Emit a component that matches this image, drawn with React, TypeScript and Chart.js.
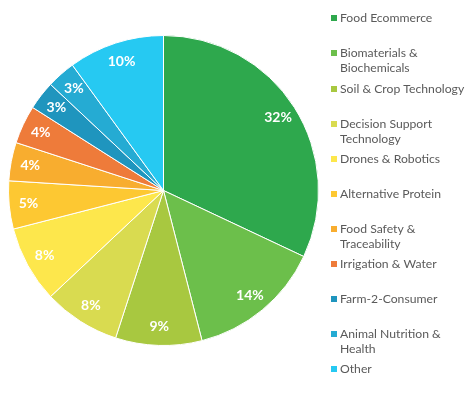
import React, { useEffect, useRef } from "react";
import { Chart, registerables } from "chart.js";

Chart.register(...registerables);

const categories: string[][] = [
  ["Food Ecommerce"],
  ["Biomaterials &", "Biochemicals"],
  ["Soil & Crop Technology"],
  ["Decision Support", "Technology"],
  ["Drones & Robotics"],
  ["Alternative Protein"],
  ["Food Safety &", "Traceability"],
  ["Irrigation & Water"],
  ["Farm-2-Consumer"],
  ["Animal Nutrition &", "Health"],
  ["Other"],
];

const shares: number[] = [32, 14, 9, 8, 8, 5, 4, 4, 3, 3, 10];

const colors: string[] = [
  "#2ea84d",
  "#6cbf4b",
  "#a8c840",
  "#d9db50",
  "#fde74c",
  "#fdc832",
  "#f8ad2f",
  "#ee7b3a",
  "#1f95be",
  "#25abd3",
  "#26c9f2",
];

const labelPlugin = {
  id: "customLabels",
  afterDraw(chart: any) {
    const ctx = chart.ctx;
    const meta = chart.getDatasetMeta(0);
    const data = chart.data.datasets[0].data as number[];
    ctx.save();
    ctx.fillStyle = "#ffffff";
    ctx.font = "bold 14px Lato, 'DejaVu Sans', sans-serif";
    ctx.textAlign = "center";
    ctx.textBaseline = "middle";
    meta.data.forEach((arc: any, i: number) => {
      const p = arc.getProps(["x", "y", "startAngle", "endAngle", "outerRadius"], true);
      const mid = (p.startAngle + p.endAngle) / 2;
      const r = p.outerRadius * 0.875;
      ctx.fillText(data[i] + "%", p.x + Math.cos(mid) * r, p.y + Math.sin(mid) * r);
    });

    // legend
    const lx = 331;
    const startY = 18;
    const step = 35;
    const lineH = 15;
    ctx.textAlign = "left";
    ctx.font = "12.2px Lato, 'DejaVu Sans', sans-serif";
    const labels = chart.data.labels as string[][];
    labels.forEach((lines: string[], i: number) => {
      const yy = startY + i * step + (i >= 2 ? 1 : 0);
      ctx.fillStyle = colors[i];
      ctx.fillRect(lx, yy - 3, 6, 6);
      ctx.fillStyle = "#5a5a5a";
      lines.forEach((t, j) => {
        ctx.fillText(t, lx + 9, yy + j * lineH);
      });
    });
    ctx.restore();
  },
};

export default function App() {
  const ref = useRef<HTMLCanvasElement | null>(null);
  useEffect(() => {
    document.body.style.margin = "0";
    if (!ref.current) return;
    const chart = new Chart(ref.current, {
      type: "pie",
      data: {
        labels: categories as any,
        datasets: [
          {
            data: shares,
            backgroundColor: colors,
            borderColor: "#ffffff",
            borderWidth: 1,
          },
        ],
      },
      options: {
        animation: false,
        responsive: true,
        maintainAspectRatio: false,
        layout: { padding: { left: 8, right: 155, top: 35, bottom: 53 } },
        plugins: {
          legend: { display: false },
          tooltip: { enabled: false },
        },
      },
      plugins: [labelPlugin],
    });
    return () => chart.destroy();
  }, []);
  return (
    <div style={{ position: "relative", width: 474, height: 399, background: "#fff" }}>
      <canvas ref={ref} />
    </div>
  );
}
